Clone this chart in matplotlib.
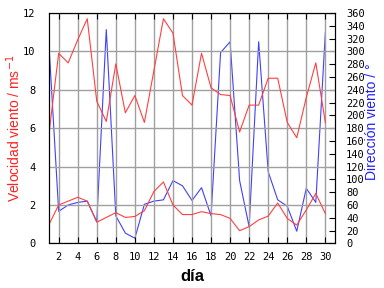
import matplotlib
matplotlib.use("Agg")
import matplotlib.pyplot as plt

# datos diarios del mes
dias = list(range(1, 31))
viento_max = [5.8, 9.9, 9.4, 10.6, 11.7, 7.4, 6.35, 9.35, 6.8, 7.7, 6.3, 9.0, 11.7, 10.95,
              7.7, 7.2, 9.9, 8.1, 7.75, 7.7, 5.8, 7.2, 7.2, 8.6, 8.6, 6.3, 5.5, 7.6, 9.4, 6.3]
viento_med = [1.0, 2.0, 2.2, 2.4, 2.2, 1.1, 1.35, 1.6, 1.35, 1.4, 1.7, 2.7, 3.2, 2.0,
              1.5, 1.5, 1.65, 1.55, 1.5, 1.3, 0.66, 0.87, 1.22, 1.42, 2.1, 1.3, 0.95, 1.74, 2.6, 1.55]
direccion = [305, 50, 60, 64, 66, 34, 334, 43, 16, 8, 61, 66, 68, 98,
             90, 67, 87, 43, 298, 315, 98, 26, 315, 112, 68, 58, 19, 86, 64, 329]

fig = plt.figure(figsize=(3.84, 2.88), dpi=100)
ax = fig.add_axes([0.128, 0.155, 0.744, 0.80])
ax2 = ax.twinx()

ax.plot(dias, viento_max, color='#ff4040', lw=0.8)
ax.plot(dias, viento_med, color='#ff4040', lw=0.8)
ax2.plot(dias, direccion, color='#4040ff', lw=0.8)

ax.set_xlim(1, 31)
ax.set_ylim(0, 12)
ax2.set_ylim(0, 360)
ax.set_xticks(range(2, 31, 2))
ax.set_yticks(range(0, 13, 2))
ax2.set_yticks(range(0, 361, 20))

ax.grid(True, color='#a0a0a0', lw=1.0)
ax.set_axisbelow(True)
ax.set_zorder(ax2.get_zorder() + 1)
ax.patch.set_visible(False)

fuente = 'DejaVu Sans Mono'
ax.tick_params(axis='x', direction='in', top=True, length=4, labelsize=7.5, pad=6)
ax.tick_params(axis='y', length=0, labelsize=7.5, pad=10)
ax2.tick_params(axis='y', direction='in', length=4, labelsize=7.5, pad=8)
for lab in ax.get_xticklabels() + ax.get_yticklabels() + ax2.get_yticklabels():
    lab.set_family(fuente)

titulos = 'Liberation Sans'
ax.set_xlabel('día', fontsize=12, fontweight='bold', family=titulos, labelpad=5)
ax.set_ylabel('Velocidad viento / ms$^{-1}$', color='#ff2020', fontsize=10, family=titulos)
ax.yaxis.set_label_coords(-0.09, 0.5)
ax2.set_ylabel('Dirección viento / °', color='#2020ff', fontsize=10, family=titulos)
ax2.yaxis.set_label_coords(1.106, 0.53)

fig.savefig('out.png', dpi=100)
